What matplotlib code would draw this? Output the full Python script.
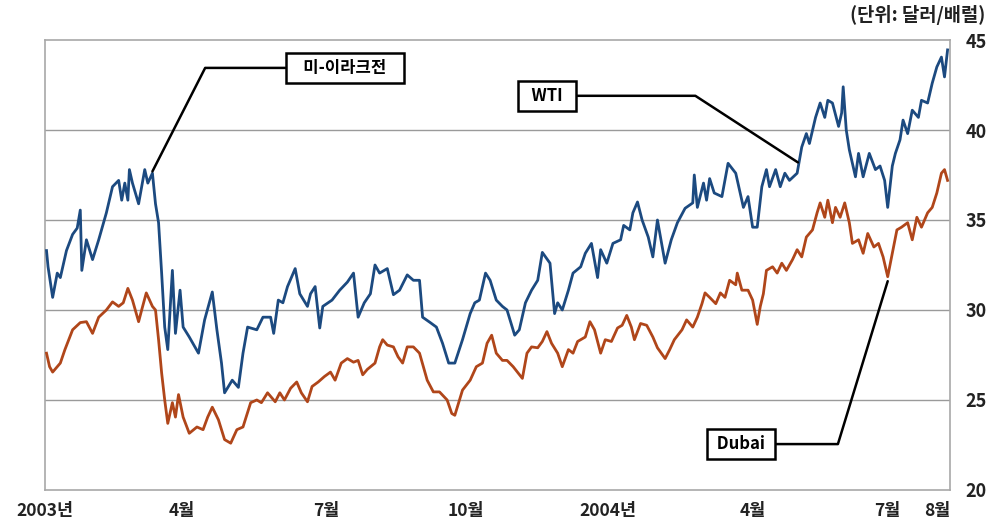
import matplotlib
matplotlib.use("Agg")
import matplotlib.pyplot as plt
import numpy as np

plt.rcParams['font.family'] = ['Noto Sans CJK KR', 'DejaVu Sans']

# === Data (days since 2003-01-01, USD per barrel) ===
wti_days = [1, 2, 5, 8, 10, 14, 18, 21, 23, 24, 27, 31, 35, 38, 40, 44, 48, 50, 52, 54,
            55, 57, 61, 65, 67, 70, 72, 74, 76, 78, 80, 83, 85, 88, 90, 94, 100, 104, 109, 112,
            115, 117, 122, 126, 129, 132, 138, 142, 147, 149, 152, 155, 158, 163, 166, 171, 173, 176,
            179, 181, 187, 192, 197, 201, 204, 208, 212, 215, 218, 223, 227, 231, 236, 240, 244,
            246, 251, 255, 259, 263, 267, 272, 277, 280, 283, 287, 290, 294, 298, 301, 306, 309,
            313, 317, 321, 324, 329, 332, 334, 337, 341, 344, 349, 352, 356, 360, 362, 366, 370,
            375, 377, 381, 383, 386, 389, 393, 396, 399, 404, 408, 412, 417, 422, 423, 425, 429,
            431, 433, 436, 441, 445, 450, 455, 458, 461, 464, 467, 470, 472, 476, 479, 482, 485,
            490, 493, 496, 498, 502, 505, 508, 510, 513, 517, 519, 520, 522, 524, 528, 530, 533,
            537, 541, 544, 547, 549, 552, 554, 557, 559, 562, 565, 569, 571, 575, 578, 581, 584,
            586, 588]
wti_price = [33.3, 32.4, 30.7, 32.05, 31.8, 33.3, 34.2, 34.55, 35.55, 32.2, 33.9, 32.8, 33.9,
             34.8, 35.4, 36.85, 37.2, 36.1, 37.05, 36.1, 37.8, 37.05, 35.9, 37.8, 37.05, 37.6,
             35.9, 34.85, 32.05, 29.05, 27.8, 32.2, 28.7, 31.1, 29.05, 28.5, 27.6, 29.45, 31.0,
             28.9, 27.05, 25.4, 26.1, 25.7, 27.6, 29.05, 28.9, 29.6, 29.6, 28.7, 30.55, 30.4,
             31.3, 32.3, 30.9, 30.2, 30.9, 31.3, 29.0, 30.2, 30.55, 31.1, 31.55, 32.05, 29.6,
             30.4, 30.9, 32.5, 32.05, 32.3, 30.85, 31.1, 31.95, 31.65, 31.65, 29.6, 29.3, 29.05,
             28.15, 27.05, 27.05, 28.35, 29.8, 30.4, 30.55, 32.05, 31.65, 30.55, 30.2, 30.0,
             28.6, 28.9, 30.4, 31.1, 31.65, 33.2, 32.6, 29.8, 30.4, 30.0, 31.1, 32.05, 32.4,
             33.15, 33.7, 31.8, 33.35, 32.6, 33.7, 33.9, 34.7, 34.45, 35.4, 36.0, 35.0, 34.05,
             32.95, 35.0, 32.6, 33.9, 34.85, 35.65, 35.95, 37.5, 35.7, 37.05, 36.1, 37.3, 36.5,
             36.3, 38.15, 37.6, 35.7, 36.3, 34.6, 34.6, 36.85, 37.8, 36.85, 37.8, 36.85, 37.6,
             37.2, 37.6, 39.05, 39.8, 39.25, 40.7, 41.5, 40.7, 41.65, 41.5, 40.2, 40.95, 42.4,
             40.0, 38.9, 37.4, 38.7, 37.4, 38.7, 37.8, 38.0, 37.2, 35.7, 38.0, 38.7, 39.45,
             40.55, 39.8, 41.1, 40.7, 41.65, 41.5, 42.6, 43.5, 44.05, 42.95, 44.45]

dubai_days = [1, 3, 5, 10, 13, 18, 23, 27, 31, 35, 40, 44, 48, 51, 54, 57, 61, 63, 66, 70, 72,
              74, 76, 78, 80, 83, 85, 87, 90, 94, 99, 103, 106, 109, 113, 117, 121, 125, 129,
              134, 138, 141, 145, 150, 153, 156, 160, 164, 167, 171, 174, 178, 182, 186, 189,
              193, 197, 201, 204, 207, 210, 215, 218, 220, 223, 227, 230, 233, 236, 240, 244,
              249, 253, 257, 262, 265, 267, 270, 272, 277, 281, 285, 288, 291, 294, 298, 301,
              305, 311, 314, 317, 321, 324, 327, 330, 334, 337, 341, 344, 347, 352, 355, 358,
              362, 365, 369, 373, 376, 379, 382, 384, 388, 392, 396, 399, 404, 407, 410, 415,
              418, 422, 425, 428, 430, 433, 437, 440, 443, 446, 450, 451, 454, 458, 461, 464,
              466, 468, 470, 474, 477, 480, 483, 487, 490, 493, 496, 500, 503, 505, 508, 510,
              513, 515, 518, 521, 524, 526, 530, 533, 536, 540, 543, 546, 549, 552, 555, 558,
              562, 565, 568, 571, 575, 578, 581, 584, 586, 588]
dubai_price = [27.6, 26.85, 26.55, 27.05, 27.8, 28.9, 29.3, 29.35, 28.7, 29.6, 30.0, 30.45,
               30.2, 30.4, 31.2, 30.55, 29.35, 30.0, 30.95, 30.2, 30.0, 28.35, 26.5, 25.0, 23.7,
               24.85, 24.05, 25.3, 24.05, 23.15, 23.5, 23.35, 24.05, 24.6, 23.9, 22.8, 22.6,
               23.35, 23.5, 24.85, 25.0, 24.85, 25.4, 24.9, 25.4, 25.0, 25.65, 26.0, 25.4, 24.9,
               25.75, 26.0, 26.3, 26.55, 26.1, 27.05, 27.3, 27.1, 27.2, 26.4, 26.7, 27.05, 27.95,
               28.35, 28.05, 27.95, 27.4, 27.05, 27.95, 27.95, 27.6, 26.1, 25.45, 25.45, 25.0,
               24.25, 24.15, 25.0, 25.55, 26.1, 26.85, 27.05, 28.15, 28.6, 27.6, 27.2, 27.2,
               26.85, 26.2, 27.6, 27.95, 27.9, 28.25, 28.8, 28.15, 27.6, 26.85, 27.8, 27.6,
               28.25, 28.5, 29.35, 28.9, 27.6, 28.35, 28.25, 29.0, 29.15, 29.7, 29.05, 28.35,
               29.25, 29.15, 28.5, 27.9, 27.3, 27.8, 28.35, 28.9, 29.45, 29.05, 29.6, 30.35,
               30.95, 30.7, 30.35, 30.95, 30.7, 31.65, 31.4, 32.05, 31.1, 31.1, 30.55, 29.2,
               30.2, 30.9, 32.2, 32.4, 32.05, 32.6, 32.2, 32.8, 33.35, 32.95, 34.05, 34.45,
               35.4, 35.95, 35.15, 36.1, 34.85, 35.7, 35.15, 35.95, 34.85, 33.7, 33.9, 33.15,
               34.25, 33.5, 33.7, 32.95, 31.85, 33.15, 34.45, 34.6, 34.85, 33.9, 35.15, 34.6,
               35.4, 35.7, 36.5, 37.6, 37.8, 37.2]

tick_days = [0, 89, 183, 274, 367, 461, 549, 581]
tick_labels = ['2003년', '4월', '7월', '10월', '2004년', '4월', '7월', '8월']
y_ticks = [20, 25, 30, 35, 40, 45]

blue = '#1c4a80'
rust = '#b0461a'
grey = '#a8a8a8'

# === Figure ===
fig = plt.figure(figsize=(9.95, 5.25), dpi=100)
ax = fig.add_axes([0.0452, 0.0667, 0.9096, 0.8571])

for y in y_ticks[1:-1]:
    ax.axhline(y, color='#9a9a9a', lw=1.0, zorder=1)

ax.plot(wti_days, wti_price, color=blue, lw=2.0, zorder=3)
ax.plot(dubai_days, dubai_price, color=rust, lw=2.0, zorder=3)

ax.set_xlim(0, 589.6)
ax.set_ylim(20, 45)

# === Callouts ===
box = dict(boxstyle='square,pad=0.35', fc='white', ec='black', lw=1.8)
ax.annotate('   미-이라크전   ', xy=(70, 37.7), xytext=(195.5, 43.45),
            ha='center', va='center', fontsize=12, fontweight='bold', bbox=box,
            arrowprops=dict(arrowstyle='-', color='black', lw=1.8, shrinkA=0, shrinkB=0,
                            connectionstyle='angle,angleA=0,angleB=63,rad=0'),
            zorder=5)
ax.annotate('  WTI  ', xy=(490.5, 38.2), xytext=(327, 41.9),
            ha='center', va='center', fontsize=12, fontweight='bold', bbox=box,
            arrowprops=dict(arrowstyle='-', color='black', lw=1.8, shrinkA=0, shrinkB=0,
                            connectionstyle='angle,angleA=0,angleB=147,rad=0'),
            zorder=5)
ax.annotate(' Dubai ', xy=(549, 31.6), xytext=(453.4, 22.55),
            ha='center', va='center', fontsize=12, fontweight='bold', bbox=box,
            arrowprops=dict(arrowstyle='-', color='black', lw=1.8, shrinkA=0, shrinkB=0,
                            connectionstyle='angle,angleA=0,angleB=73,rad=0'),
            zorder=5)

# === Axes setup ===
ax.yaxis.tick_right()
ax.set_yticks(y_ticks)
ax.set_yticklabels([str(v) for v in y_ticks])
ax.set_xticks(tick_days)
ax.set_xticklabels(tick_labels)
ax.tick_params(axis='y', length=0, pad=11, labelsize=13)
ax.tick_params(axis='x', length=0, pad=9, labelsize=12.5)
for lab in ax.get_xticklabels() + ax.get_yticklabels():
    lab.set_fontweight('bold')
    lab.set_color('#222222')

for spine in ax.spines.values():
    spine.set_color(grey)
    spine.set_linewidth(1.2)

fig.text(0.99, 0.972, '(단위: 달러/배럴)', ha='right', va='center',
         fontsize=13.5, fontweight='bold', color='#222222')

fig.savefig('out.png', dpi=100)
